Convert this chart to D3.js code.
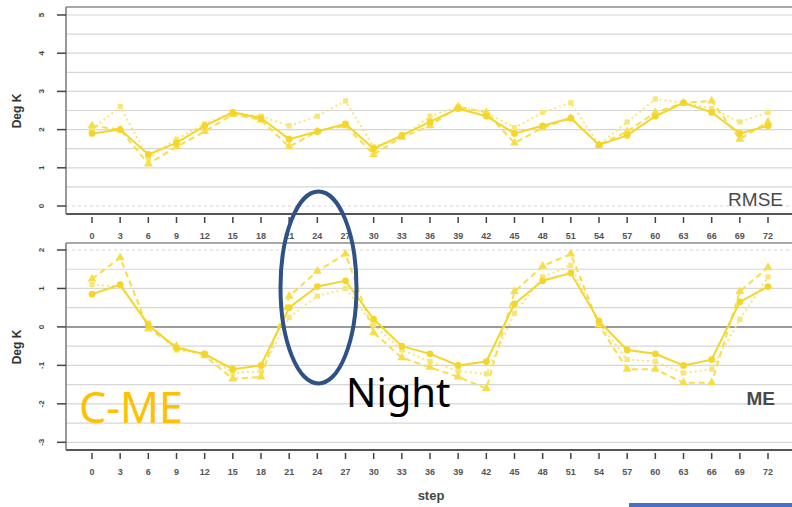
<!DOCTYPE html>
<html>
<head>
<meta charset="utf-8">
<script src="https://cdn.jsdelivr.net/npm/d3@7"></script>
<style>
  body { margin: 0; background: #fff; }
  svg { display: block; font-family: Arial, "Liberation Sans", sans-serif; }
</style>
</head>
<body>
<div class="chart"></div>
<script>
var svgWidth = 792;
var svgHeight = 507;

// forecast steps (hours)
var steps = d3.range(0, 73, 3);

// RMSE panel, three runs
var rmseSolid  = [1.9, 2.0, 1.35, 1.65, 2.1, 2.45, 2.3, 1.75, 1.95, 2.15, 1.5, 1.85, 2.2, 2.55, 2.35, 1.9, 2.1, 2.3, 1.6, 1.85, 2.35, 2.7, 2.45, 1.9, 2.1];
var rmseDashed = [2.1, 2.0, 1.1, 1.55, 1.95, 2.4, 2.25, 1.55, 1.95, 2.1, 1.35, 1.8, 2.1, 2.6, 2.45, 1.65, 2.05, 2.3, 1.6, 1.95, 2.45, 2.7, 2.75, 1.75, 2.2];
var rmseDotted = [2.0, 2.6, 1.25, 1.75, 2.15, 2.45, 2.35, 2.1, 2.35, 2.75, 1.55, 1.8, 2.35, 2.6, 2.45, 2.05, 2.45, 2.7, 1.6, 2.2, 2.8, 2.7, 2.55, 2.2, 2.45];

// ME panel, three runs
var meSolid  = [0.85, 1.1, 0.05, -0.55, -0.7, -1.1, -1.0, 0.5, 1.05, 1.2, 0.2, -0.5, -0.7, -1.0, -0.9, 0.6, 1.2, 1.4, 0.15, -0.6, -0.7, -1.0, -0.85, 0.65, 1.05];
var meDashed = [1.25, 1.8, -0.05, -0.5, -0.75, -1.35, -1.3, 0.8, 1.45, 1.9, -0.15, -0.8, -1.05, -1.3, -1.6, 0.92, 1.58, 1.9, 0.05, -1.1, -1.1, -1.45, -1.45, 0.92, 1.55];
var meDotted = [1.1, 1.05, 0.1, -0.6, -0.7, -1.2, -1.15, 0.25, 0.8, 1.0, 0.05, -0.6, -0.9, -1.15, -1.22, 0.35, 1.3, 1.6, 0.1, -0.85, -0.9, -1.2, -1.1, 0.2, 1.3];

var rmseTicks = [0, 1, 2, 3, 4, 5];
var meTicks = [-3, -2, -1, 0, 1, 2];

var svg = d3.select(".chart")
  .append("svg")
  .attr("width", svgWidth)
  .attr("height", svgHeight);

// soft blur so the lines look like the scanned figure
svg.append("defs")
  .append("filter")
  .attr("id", "soft")
  .append("feGaussianBlur")
  .attr("stdDeviation", 0.7);

var xScale = d3.scaleLinear().domain([0, 72]).range([92, 768]);

var series = [
  { key: "dotted", color: "#f9e67a", dash: "2,3", marker: d3.symbolSquare, size: 28 },
  { key: "dashed", color: "#f7de48", dash: "6,4", marker: d3.symbolTriangle, size: 34 },
  { key: "solid",  color: "#f4d52a", dash: null,  marker: d3.symbolCircle, size: 36 }
];

function drawPanel(opts) {
  var y = d3.scaleLinear().domain(opts.domain).range(opts.range);
  var g = svg.append("g");

  // half-unit grid lines
  var grid = d3.range(opts.domain[0], opts.domain[1] + 0.01, 0.5);
  g.selectAll(".grid")
    .data(grid)
    .enter()
    .append("line")
    .attr("x1", 66)
    .attr("x2", svgWidth)
    .attr("y1", d => y(d))
    .attr("y2", d => y(d))
    .attr("stroke", d => d === opts.zeroLine ? "#9a9a9a" : "#d6d6d6")
    .attr("stroke-width", d => d === opts.zeroLine ? 2 : 1.2)
    .attr("stroke-dasharray", d => d === opts.dashedLine ? "3,3" : null);

  // frame
  g.append("line")
    .attr("x1", 66).attr("x2", svgWidth)
    .attr("y1", opts.top).attr("y2", opts.top)
    .attr("stroke", "#8c8c8c").attr("stroke-width", 1.5);
  g.append("line")
    .attr("x1", 66).attr("x2", svgWidth)
    .attr("y1", opts.bottom).attr("y2", opts.bottom)
    .attr("stroke", "#555").attr("stroke-width", 2);
  g.append("line")
    .attr("x1", 66).attr("x2", 66)
    .attr("y1", opts.top).attr("y2", opts.bottom)
    .attr("stroke", "#777").attr("stroke-width", 1.5);

  // y axis ticks with rotated labels
  var yt = g.selectAll(".ytick")
    .data(opts.ticks)
    .enter()
    .append("g")
    .attr("transform", d => `translate(0, ${y(d)})`);
  yt.append("line")
    .attr("x1", 57).attr("x2", 66)
    .attr("stroke", "#444").attr("stroke-width", 1.5);
  yt.append("text")
    .attr("transform", "translate(44, 0) rotate(-90)")
    .attr("text-anchor", "middle")
    .attr("font-size", "8px")
    .attr("font-weight", "bold")
    .attr("fill", "#444")
    .text(d => d);

  // x axis ticks
  var xt = g.selectAll(".xtick")
    .data(steps)
    .enter()
    .append("g")
    .attr("transform", d => `translate(${xScale(d)}, ${opts.bottom})`);
  xt.append("line")
    .attr("y1", 3).attr("y2", 9)
    .attr("stroke", "#444").attr("stroke-width", 1.5);
  xt.append("text")
    .attr("y", 25)
    .attr("text-anchor", "middle")
    .attr("font-size", "9px")
    .attr("font-weight", "bold")
    .attr("fill", "#555")
    .text(d => d);

  // y title
  g.append("text")
    .attr("transform", `translate(21, ${opts.titleY}) rotate(-90)`)
    .attr("text-anchor", "middle")
    .attr("font-size", "12px")
    .attr("font-weight", "bold")
    .attr("fill", "#333")
    .text("Deg K");

  // the three runs
  var lineGen = d3.line()
    .x((d, i) => xScale(steps[i]))
    .y(d => y(d));
  var sg = g.append("g").attr("filter", "url(#soft)");
  series.forEach(function(s, k) {
    var vals = opts.data[k];
    sg.append("path")
      .datum(vals)
      .attr("d", lineGen)
      .attr("fill", "none")
      .attr("stroke", s.color)
      .attr("stroke-width", 2)
      .attr("stroke-dasharray", s.dash);
    sg.selectAll(".pt-" + s.key)
      .data(vals)
      .enter()
      .append("path")
      .attr("d", d3.symbol().type(s.marker).size(s.size))
      .attr("transform", (d, i) => `translate(${xScale(steps[i])}, ${y(d)})`)
      .attr("fill", s.color);
  });

  // panel label
  g.append("text")
    .attr("x", opts.labelX)
    .attr("y", opts.labelY)
    .attr("text-anchor", "end")
    .attr("font-size", opts.labelSize)
    .attr("font-weight", opts.labelWeight)
    .attr("fill", "#4a4a4a")
    .text(opts.label);
}

drawPanel({
  domain: [0, 5], range: [206, 15], top: 7, bottom: 214,
  ticks: rmseTicks, zeroLine: null, dashedLine: 0,
  data: [rmseDotted, rmseDashed, rmseSolid],
  titleY: 111, label: "RMSE", labelX: 783, labelY: 206,
  labelSize: "19px", labelWeight: "normal"
});

drawPanel({
  domain: [-3, 2], range: [442.3, 250], top: 243, bottom: 450,
  ticks: meTicks, zeroLine: 0, dashedLine: 2,
  data: [meDotted, meDashed, meSolid],
  titleY: 347, label: "ME", labelX: 775, labelY: 405,
  labelSize: "19px", labelWeight: "bold"
});

// x title
svg.append("text")
  .attr("x", 431)
  .attr("y", 500)
  .attr("text-anchor", "middle")
  .attr("font-size", "13px")
  .attr("font-weight", "bold")
  .attr("fill", "#444")
  .text("step");

// annotations
svg.append("ellipse")
  .attr("cx", 318.5)
  .attr("cy", 287.5)
  .attr("rx", 38)
  .attr("ry", 96)
  .attr("fill", "none")
  .attr("stroke", "#2f5286")
  .attr("stroke-width", 4);

svg.append("text")
  .attr("x", 79)
  .attr("y", 423)
  .attr("font-family", "'Noto Sans', sans-serif")
  .attr("font-size", "43px")
  .attr("fill", "#ffc000")
  .text("C-ME");

svg.append("text")
  .attr("x", 346)
  .attr("y", 407)
  .attr("font-family", "'Noto Sans', sans-serif")
  .attr("font-size", "40px")
  .attr("fill", "#000")
  .text("Night");

svg.append("rect")
  .attr("x", 629)
  .attr("y", 503)
  .attr("width", 163)
  .attr("height", 4)
  .attr("fill", "#4472c4");
</script>
</body>
</html>
